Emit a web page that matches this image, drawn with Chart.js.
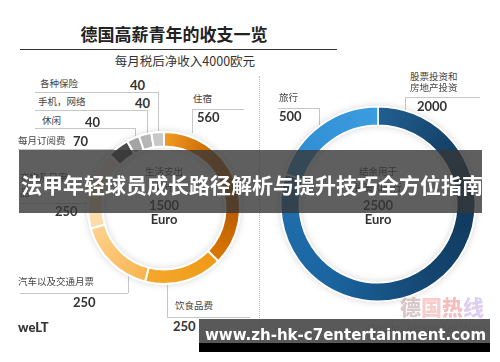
<!DOCTYPE html>
<html>
<head>
<meta charset="utf-8">
<script src="https://cdn.jsdelivr.net/npm/chart.js@4"></script>
<style>
html, body { margin: 0; padding: 0; background: #fff; }
#wrap { position: relative; width: 500px; height: 362px; overflow: hidden; font-family: "Noto Sans CJK SC", sans-serif; color: #333; }
.t { position: absolute; white-space: nowrap; line-height: 1; transform: translateY(-50%); z-index: 3; }
.mid { transform: translate(-50%, -50%); }
.lab { font-size: 9.5px; color: #444; }
.num { font-family: Lato, "Open Sans", sans-serif; font-weight: 700; font-size: 13px; color: #333; }
.h { position: absolute; height: 0; border-top: 1px solid #c6c6c6; z-index: 1; }
.v { position: absolute; width: 0; border-left: 1px solid #c6c6c6; z-index: 1; }
canvas { position: absolute; z-index: 2; }
#banner { position: absolute; left: 19px; top: 150px; width: 463px; height: 63px; background: rgba(55,55,55,0.8); z-index: 5; }
#bannerText { position: absolute; left: 21px; top: 184px; transform: translateY(-50%); color: #fff; font-weight: 700; font-size: 21px; line-height: 1; white-space: nowrap; z-index: 6; }
#bar { position: absolute; left: 199px; top: 319px; width: 291px; height: 24px; background: rgba(75,75,75,0.92); z-index: 5; }
#barBlack { position: absolute; left: 199px; top: 343px; width: 291px; height: 9px; background: #000; z-index: 5; }
#url { position: absolute; left: 205px; top: 335px; transform: translateY(-50%); color: #fff; font-family: "DejaVu Sans", sans-serif; font-weight: 700; font-size: 15px; line-height: 1; white-space: nowrap; z-index: 6; }
</style>
</head>
<body>
<div id="wrap">
  <div class="t mid" style="left:174px;top:33px;font-size:17px;font-weight:700;color:#222;">德国高薪青年的收支一览</div>
  <div class="h" style="left:20px;top:49px;width:317px;border-top:1.5px solid #333;"></div>
  <div class="t mid" style="left:185px;top:61px;font-size:12.5px;color:#333;">每月税后净收入4000欧元</div>

  <div class="v" style="left:259px;top:76px;height:254px;border-left:1px dotted #bbb;"></div>

  <!-- left labels -->
  <div class="t lab" style="left:40px;top:84px;">各种保险</div>
  <div class="t num" style="left:130px;top:85px;">40</div>
  <div class="h" style="left:35px;top:92px;width:123px;"></div>
  <div class="v" style="left:158px;top:92px;height:42px;"></div>

  <div class="t lab" style="left:38px;top:102px;">手机，网络</div>
  <div class="t num" style="left:135px;top:103px;">40</div>
  <div class="h" style="left:35px;top:110px;width:112px;"></div>
  <div class="v" style="left:147px;top:110px;height:27px;"></div>

  <div class="t lab" style="left:42px;top:121px;">休闲</div>
  <div class="t num" style="left:85px;top:122px;">40</div>
  <div class="h" style="left:35px;top:128px;width:100px;"></div>
  <div class="v" style="left:135px;top:128px;height:13px;"></div>

  <div class="t lab" style="left:18px;top:141px;">每月订阅费</div>
  <div class="t num" style="left:73px;top:141px;">70</div>
  <div class="h" style="left:18px;top:149px;width:102px;"></div>

  <div class="t lab" style="left:20px;top:178px;">衣物及日用</div>
  <div class="t lab" style="left:20px;top:193px;">品</div>
  <div class="h" style="left:20px;top:203px;width:70px;"></div>
  <div class="t num" style="left:55px;top:211px;">250</div>

  <div class="t lab" style="left:18px;top:282px;">汽车以及交通月票</div>
  <div class="h" style="left:20px;top:293px;width:108px;"></div>
  <div class="v" style="left:128px;top:268px;height:25px;"></div>
  <div class="t num" style="left:73px;top:302px;">250</div>

  <div class="t lab" style="left:175px;top:306px;">饮食品费</div>
  <div class="v" style="left:167px;top:280px;height:37px;"></div>
  <div class="h" style="left:167px;top:317px;width:83px;"></div>
  <div class="t num" style="left:173px;top:326px;">250</div>

  <div class="t lab" style="left:193px;top:99px;">住宿</div>
  <div class="h" style="left:192px;top:109px;width:52px;"></div>
  <div class="v" style="left:192px;top:109px;height:24px;"></div>
  <div class="t num" style="left:197px;top:117px;">560</div>

  <!-- right labels -->
  <div class="t lab" style="left:279px;top:98px;">旅行</div>
  <div class="h" style="left:278px;top:108px;width:41px;"></div>
  <div class="v" style="left:319px;top:108px;height:18px;"></div>
  <div class="t num" style="left:279px;top:116px;">500</div>

  <div class="t lab" style="left:410px;top:77px;">股票投资和</div>
  <div class="t lab" style="left:410px;top:88px;">房地产投资</div>
  <div class="h" style="left:405px;top:97px;width:75px;"></div>
  <div class="v" style="left:405px;top:97px;height:15px;"></div>
  <div class="t num" style="left:417px;top:106px;">2000</div>

  <!-- centre texts -->
  <div class="t mid lab" style="left:164px;top:172px;">生活支出</div>
  <div class="t mid lab" style="left:164px;top:188px;">共计</div>
  <div class="t mid num" style="left:164px;top:205px;">1500</div>
  <div class="t mid num" style="left:164px;top:219px;">Euro</div>
  <div class="t mid lab" style="left:378px;top:172px;">结余用于</div>
  <div class="t mid lab" style="left:378px;top:188px;">投资和旅行</div>
  <div class="t mid num" style="left:378px;top:205px;">2500</div>
  <div class="t mid num" style="left:378px;top:219px;">Euro</div>

  <div class="t" style="left:18px;top:327px;font-family:Lato,sans-serif;font-weight:900;font-size:13px;color:#333;">weLT</div>

  <div class="t" style="left:400px;top:306px;font-size:21px;font-weight:900;opacity:0.38;">
    <span style="color:#a07070">德</span><span style="color:#f07a7a">国</span><span style="color:#e05555">热</span><span style="color:#a880d8">线</span>
  </div>
  <div class="t" style="left:367px;top:327px;font-family:'Open Sans',sans-serif;font-size:11px;color:#aaa;">Quelle: Alexander Werle</div>

  <canvas id="leftRing" width="170" height="170" style="left:79px;top:123px;"></canvas>
  <canvas id="rightRing" width="212" height="212" style="left:272px;top:98px;"></canvas>

  <div id="banner"></div>
  <div id="bannerText">法甲年轻球员成长路径解析与提升技巧全方位指南</div>
  <div id="bar"></div>
  <div id="barBlack"></div>
  <div id="url">www.zh-hk-c7entertainment.com</div>
</div>

<script>
// spending (left ring), clockwise from 12 o'clock
const spendLabels = ['住宿', '饮食品费', '汽车以及交通月票', '衣物及日用品', '每月订阅费', '休闲', '手机，网络', '各种保险'];
const spendValues = [560, 250, 250, 250, 70, 40, 40, 40];
// savings (right ring)
const saveLabels = ['股票投资和房地产投资', '旅行'];
const saveValues = [2000, 500];

// colour ramps per slice (start .. end)
const spendColors = [
  ['#f39a22', '#c46300', '#b85c00', '#dc7700'],
  ['#ef9a17', '#f4a82c'],
  ['#f8b550', '#fcd18d'],
  ['#fdd9a4', '#fef0dd'],
  ['#4b4b4b', '#4b4b4b'],
  ['#a4a4a4', '#a4a4a4'],
  ['#b6b6b6', '#b6b6b6'],
  ['#c8c8c8', '#c8c8c8']
];
const saveColors = [
  ['#215f92', '#0f3657', '#14456f', '#1b66a2', '#2170ad'],
  ['#2f8ad0', '#3b9de0']
];

function ringGradient(chart, values, colors) {
  const a = chart.chartArea;
  const cx = (a.left + a.right) / 2;
  const cy = (a.top + a.bottom) / 2;
  const g = chart.ctx.createConicGradient(-Math.PI / 2, cx, cy);
  const total = values.reduce((s, v) => s + v, 0);
  let acc = 0;
  values.forEach((v, i) => {
    const from = acc / total;
    const to = (acc + v) / total;
    const cs = colors[i];
    cs.forEach((c, j) => g.addColorStop(Math.min(1, from + (to - from) * j / (cs.length - 1)), c));
    acc += v;
  });
  return g;
}

// soft grey halo under the ring
const halo = {
  id: 'halo',
  beforeDatasetsDraw(chart) {
    const arc = chart.getDatasetMeta(0).data[0];
    if (!arc) return;
    const ctx = chart.ctx;
    ctx.save();
    ctx.beginPath();
    ctx.arc(arc.x, arc.y, arc.outerRadius + 1, 0, Math.PI * 2);
    ctx.arc(arc.x, arc.y, arc.innerRadius - 1, 0, Math.PI * 2, true);
    ctx.fillStyle = '#fff';
    ctx.shadowColor = 'rgba(0,0,0,0.16)';
    ctx.shadowBlur = 7;
    ctx.fill();
    ctx.restore();
  }
};

function makeRing(id, labels, values, colors, border) {
  let grad = null;
  return new Chart(document.getElementById(id), {
    type: 'doughnut',
    data: {
      labels: labels,
      datasets: [{
        data: values,
        backgroundColor: (c) => {
          if (!c.chart.chartArea) return '#ccc';
          if (!grad) grad = ringGradient(c.chart, values, colors);
          return grad;
        },
        borderColor: '#fff',
        borderWidth: border
      }]
    },
    options: {
      responsive: false,
      animation: false,
      cutout: '81%',
      layout: { padding: 8 },
      plugins: { legend: { display: false }, tooltip: { enabled: false } }
    },
    plugins: [halo]
  });
}

makeRing('leftRing', spendLabels, spendValues, spendColors, 2);
makeRing('rightRing', saveLabels, saveValues, saveColors, 1.5);
</script>
</body>
</html>
